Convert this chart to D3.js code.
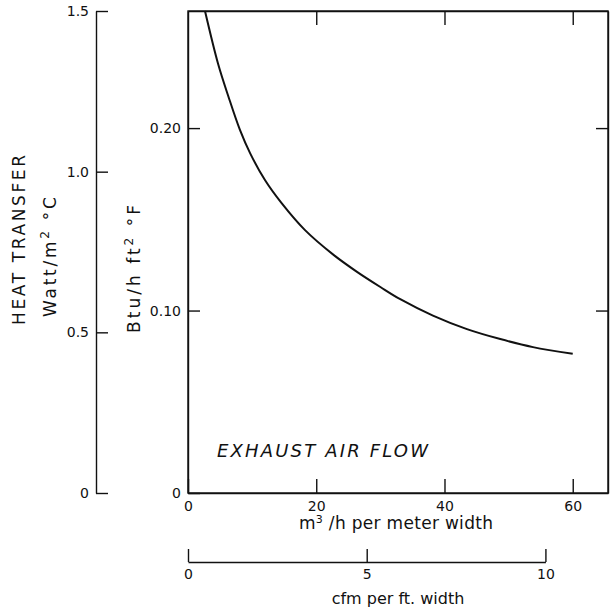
<!DOCTYPE html>
<html>
<head>
<meta charset="utf-8">
<script src="https://cdn.jsdelivr.net/npm/d3@7"></script>
<style>
  body { margin: 0; background: #fff; }
  svg { display: block; }
  text { font-family: "DejaVu Sans", sans-serif; fill: #111; }
  .axis path, .axis line { stroke: #111; stroke-width: 1.4; }
  .axis text { font-size: 14px; font-family: "DejaVu Sans", sans-serif; fill: #111; }
</style>
</head>
<body>
<div id="chart"></div>
<script>
// curve: flow (m3/h per meter width) vs heat transfer (W/m2 C)
const flowM3h = [2.65, 4.7, 6.3, 8.1, 9.7, 12.0, 14.6, 18.25, 22.7, 26.3, 30.0, 33.1, 38.2, 43.5, 48.7, 53.8, 60.0];
const heatW   = [1.50, 1.335, 1.234, 1.130, 1.057, 0.974, 0.902, 0.818, 0.741, 0.689, 0.641, 0.603, 0.552, 0.510, 0.479, 0.454, 0.433];

const wTicks = [0, 0.5, 1.0, 1.5];
const wLabels = ["0", "0.5", "1.0", "1.5"];
const btuTicks = [0, 0.10, 0.20];
const btuLabels = ["0", "0.10", "0.20"];
const flowTicks = [0, 20, 40, 60];
const cfmTicks = [0, 5, 10];

const W_PER_BTU = 5.678;   // 1 Btu/h ft2 F = 5.678 W/m2 C
const M3H_PER_CFM = 5.574; // 1 cfm per ft = 5.574 m3/h per m

let width = 610, height = 613;
let box = {left: 188, right: 608, top: 11, bottom: 493};

let svg = d3.select("#chart").append("svg")
    .attr("width", width)
    .attr("height", height);

let x = d3.scaleLinear().domain([0, 65.5]).range([box.left, box.right]);
let yW = d3.scaleLinear().domain([0, 1.5]).range([box.bottom, box.top]);
let yBtu = d3.scaleLinear().domain([0, 1.5 / W_PER_BTU]).range([box.bottom, box.top]);
let xCfm = d3.scaleLinear().domain([0, 10]).range([x(0), x(10 * M3H_PER_CFM)]);

// left W/m2 C axis
svg.append("g")
    .attr("class", "axis")
    .attr("transform", "translate(96,0)")
    .call(d3.axisLeft(yW).tickValues(wTicks).tickSizeInner(-12).tickSizeOuter(0).tickPadding(7)
      .tickFormat((d, i) => wLabels[i]));

// frame
svg.append("rect")
    .attr("x", box.left).attr("y", box.top)
    .attr("width", box.right - box.left).attr("height", box.bottom - box.top)
    .attr("fill", "none").attr("stroke", "#111").attr("stroke-width", 1.4);

// Btu axis (left of frame, labelled) and right inner ticks
svg.append("g")
    .attr("class", "axis")
    .attr("transform", "translate(" + box.left + ",0)")
    .call(d3.axisLeft(yBtu).tickValues(btuTicks).tickSizeInner(-12).tickSizeOuter(0).tickPadding(7)
      .tickFormat((d, i) => btuLabels[i]));

svg.append("g")
    .attr("class", "axis")
    .attr("transform", "translate(" + box.right + ",0)")
    .call(d3.axisRight(yBtu).tickValues(btuTicks.slice(1)).tickSizeInner(-12).tickSizeOuter(0).tickFormat(""));

// bottom and top flow axes
svg.append("g")
    .attr("class", "axis")
    .attr("transform", "translate(0," + box.bottom + ")")
    .call(d3.axisBottom(x).tickValues(flowTicks).tickSizeInner(-14).tickSizeOuter(0).tickPadding(8)
      .tickFormat(d3.format("d")));

svg.append("g")
    .attr("class", "axis")
    .attr("transform", "translate(0," + box.top + ")")
    .call(d3.axisTop(x).tickValues(flowTicks.slice(1)).tickSizeInner(-14).tickSizeOuter(0).tickFormat(""));

// cfm axis
svg.append("g")
    .attr("class", "axis")
    .attr("transform", "translate(0,562)")
    .call(d3.axisBottom(xCfm).tickValues(cfmTicks).tickSizeInner(-13).tickSizeOuter(0).tickPadding(7)
      .tickFormat(d3.format("d")));

// curve
let line = d3.line()
    .x((d, i) => x(flowM3h[i]))
    .y(d => yW(d))
    .curve(d3.curveCatmullRom.alpha(0.5));

svg.append("path")
    .datum(heatW)
    .attr("d", line)
    .attr("fill", "none")
    .attr("stroke", "#111")
    .attr("stroke-width", 2);

// labels
svg.append("text")
    .attr("transform", "translate(25,240) rotate(-90)")
    .attr("text-anchor", "middle")
    .attr("font-size", 17)
    .attr("textLength", 170).attr("lengthAdjust", "spacing")
    .text("HEAT TRANSFER");

let wLab = svg.append("text")
    .attr("transform", "translate(56,257) rotate(-90)")
    .attr("text-anchor", "middle")
    .attr("font-size", 17)
    .attr("textLength", 120).attr("lengthAdjust", "spacing");
wLab.append("tspan").text("Watt/m");
wLab.append("tspan").attr("dy", -7).attr("font-size", 12).text("2");
wLab.append("tspan").attr("dy", 7).text(" °C");

let bLab = svg.append("text")
    .attr("transform", "translate(140,269) rotate(-90)")
    .attr("text-anchor", "middle")
    .attr("font-size", 17)
    .attr("textLength", 128).attr("lengthAdjust", "spacing");
bLab.append("tspan").text("Btu/h ft");
bLab.append("tspan").attr("dy", -7).attr("font-size", 12).text("2");
bLab.append("tspan").attr("dy", 7).text(" °F");

let xLab = svg.append("text")
    .attr("x", 396).attr("y", 529)
    .attr("text-anchor", "middle")
    .attr("font-size", 17)
    .attr("textLength", 194).attr("lengthAdjust", "spacing");
xLab.append("tspan").text("m");
xLab.append("tspan").attr("dy", -6).attr("font-size", 11).text("3");
xLab.append("tspan").attr("dy", 6).text(" /h per meter width");

svg.append("text")
    .attr("x", 398).attr("y", 604)
    .attr("text-anchor", "middle")
    .attr("font-size", 16)
    .text("cfm per ft. width");

svg.append("text")
    .attr("x", 217).attr("y", 457)
    .attr("font-size", 18)
    .attr("font-style", "italic")
    .attr("textLength", 211).attr("lengthAdjust", "spacing")
    .text("EXHAUST AIR FLOW");
</script>
</body>
</html>
